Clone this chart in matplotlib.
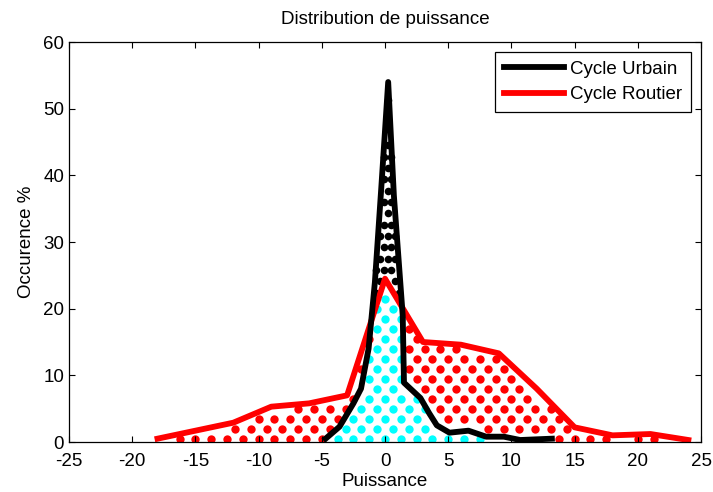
import numpy as np
import matplotlib
matplotlib.use("Agg")
import matplotlib.pyplot as plt

plt.rcParams['font.family'] = ['Liberation Sans', 'DejaVu Sans']
plt.rcParams['axes.unicode_minus'] = False

# Cycle Urbain (black curve)
urb_x = [-4.7, -3.6, -2.5, -1.9, -1.3, -0.8, -0.3, 0.25, 0.7, 1.4, 1.5, 2.8, 3.5, 4.1, 5.1, 6.6, 8.0, 9.4, 10.7, 13.2]
urb_y = [0.5, 2.3, 5.8, 8.0, 14.0, 24.0, 38.0, 54.0, 37.0, 19.0, 8.9, 6.6, 4.3, 2.5, 1.4, 1.7, 0.8, 0.8, 0.3, 0.5]

# Cycle Routier (red curve)
rout_x = [-18, -15, -12, -9, -6, -3, 0, 3, 6, 9, 12, 15, 18, 21, 24]
rout_y = [0.5, 1.7, 2.9, 5.3, 5.8, 7.0, 24.5, 15.0, 14.6, 13.3, 8.0, 2.2, 1.0, 1.2, 0.3]

fig = plt.figure(figsize=(7.13, 4.92), dpi=100)
ax = fig.add_axes([0.0968, 0.1016, 0.8864, 0.813])

# dotted fill pattern (staggered grid, kept where it falls inside each region)
def dot_grid(dx, dy, y0=0.4):
    pts = []
    for i, gy in enumerate(np.arange(y0, 60, dy)):
        off = 0.5 * dx * (i % 2)
        for gx in np.arange(-25 + off, 25, dx):
            pts.append((gx, gy))
    return np.array(pts)

def curves_at(gx):
    b = np.interp(gx, urb_x, urb_y, left=0, right=0)
    r = np.interp(gx, rout_x, rout_y, left=0, right=0)
    return b, r

g = dot_grid(1.25, 1.5)
b, r = curves_at(g[:, 0])
cyan = g[g[:, 1] < np.minimum(b, r) - 0.6]
red = g[(g[:, 1] >= b + 0.4) & (g[:, 1] < r - 0.7)]

g2 = dot_grid(0.6, 1.7, y0=0.3)
b2, r2 = curves_at(g2[:, 0])
blk = g2[(g2[:, 1] >= r2 + 0.5) & (g2[:, 1] < b2 - 1.0)]

ax.scatter(cyan[:, 0], cyan[:, 1], s=36, color='#00ffff', linewidths=0, zorder=1)
ax.scatter(red[:, 0], red[:, 1], s=36, color='red', linewidths=0, zorder=1)
ax.scatter(blk[:, 0], blk[:, 1], s=30, color='black', linewidths=0, zorder=1)

ax.plot(urb_x, urb_y, color='black', lw=4.2, label='Cycle Urbain', zorder=3)
ax.plot(rout_x, rout_y, color='red', lw=4.2, label='Cycle Routier', zorder=2)

ax.set_xlim(-25, 25)
ax.set_ylim(0, 60)
ax.set_xticks(np.arange(-25, 26, 5))
ax.set_yticks(np.arange(0, 61, 10))
ax.tick_params(direction='in', top=True, right=True, length=4, width=0.8, labelsize=13.5)
ax.tick_params(axis='x', pad=8)
for s in ax.spines.values():
    s.set_linewidth(0.9)

ax.set_title('Distribution de puissance', fontsize=13.5, pad=13)
ax.set_xlabel('Puissance', fontsize=13.5, labelpad=2)
ax.set_ylabel('Occurence %', fontsize=13.5, labelpad=6)

leg = ax.legend(loc='upper right', fontsize=13.5, fancybox=False, edgecolor='black',
                handlelength=3.2, borderpad=0.45, labelspacing=0.45, handletextpad=0.35,
                borderaxespad=0.55, framealpha=1)
leg.get_frame().set_linewidth(0.9)

fig.savefig('out.png', dpi=100)
